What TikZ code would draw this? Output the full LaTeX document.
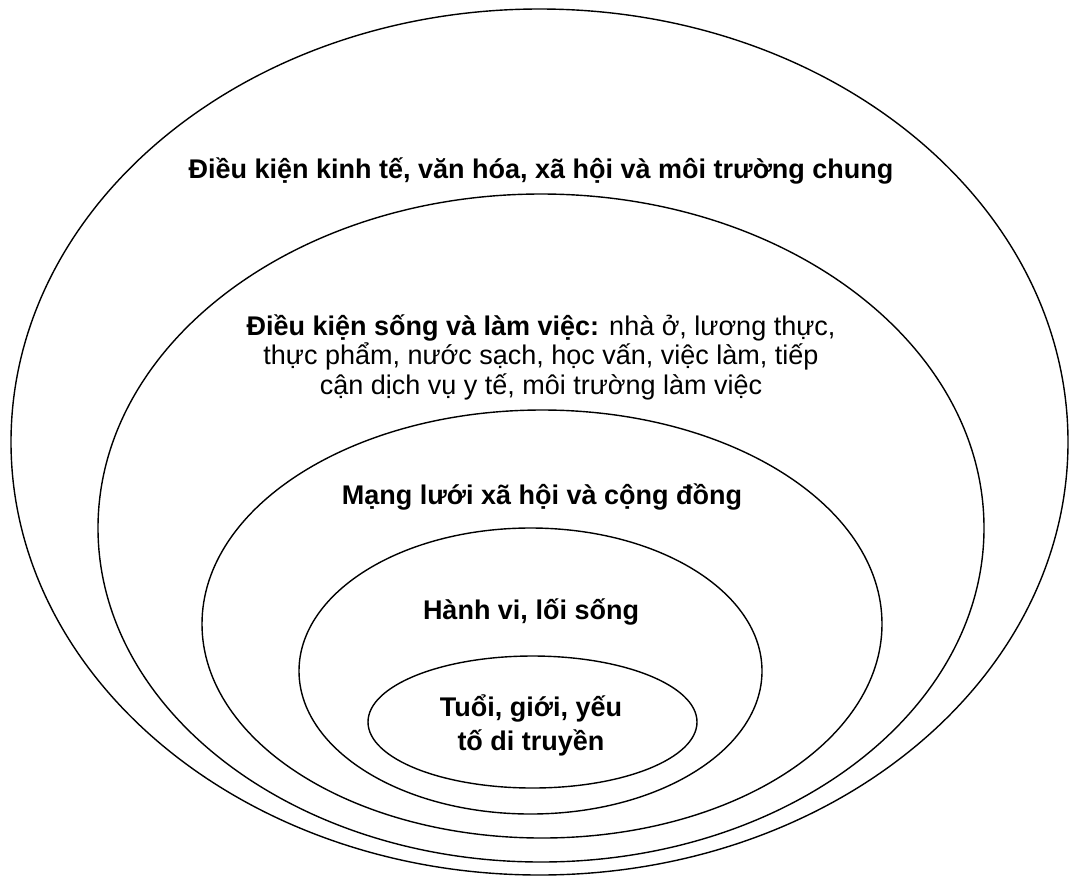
\documentclass[tikz,border=0pt]{standalone}
\usepackage{fontspec}
\setmainfont{Liberation Sans}
\begin{document}
\begin{tikzpicture}[x=1pt,y=-1pt,
  ring/.style={line width=1.4pt, draw=black},
  lbl/.style={align=center, inner sep=0pt, font=\fontsize{27}{29.5}\selectfont},
  blbl/.style={lbl, font=\fontsize{27}{34}\selectfont\bfseries}]
\useasboundingbox (0,0) rectangle (1070,876);
\draw[ring] (539.5,442) ellipse [x radius=528.5, y radius=433];
\draw[ring] (541,528) ellipse [x radius=443, y radius=334];
\draw[ring] (542,624) ellipse [x radius=340, y radius=214];
\draw[ring] (530.5,671) ellipse [x radius=231.5, y radius=143];
\draw[ring] (532.5,722) ellipse [x radius=164.5, y radius=66];
\node[blbl] (t1) at (541,171) {Điều kiện kinh tế, văn hóa, xã hội và môi trường chung};
\node[lbl] (t2) at (541,357) {\textbf{Điều kiện sống và làm việc:} nhà ở, lương thực,\\thực phẩm, nước sạch, học vấn, việc làm, tiếp\\cận dịch vụ y tế, môi trường làm việc};
\node[blbl] (t3) at (542,497) {Mạng lưới xã hội và cộng đồng};
\node[blbl] (t4) at (531,612) {Hành vi, lối sống};
\node[blbl] (t5) at (531,725) {Tuổi, giới, yếu\\tố di truyền};
\end{tikzpicture}
\end{document}
